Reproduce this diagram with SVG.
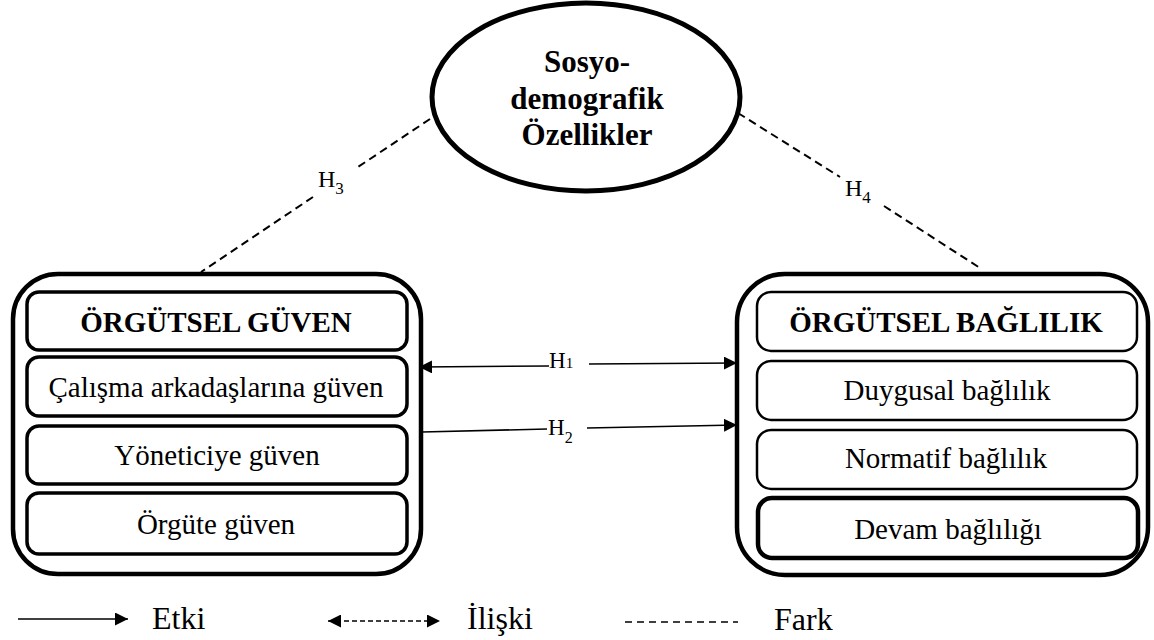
<svg xmlns="http://www.w3.org/2000/svg" width="1154" height="640" viewBox="0 0 1154 640">
<defs>
<style>
text{font-family:'Liberation Serif','DejaVu Serif','Times New Roman',serif;fill:#000}
.b{font-weight:bold}
.box{fill:none;stroke:#000}
.outer{stroke-width:4.5}
.thick{stroke-width:3.5}
.thin{stroke-width:2.5}
.dash{stroke:#000;stroke-width:2;stroke-dasharray:8 5;fill:none}
.solid{stroke:#000;stroke-width:1.6;fill:none}
.ldash{stroke:#000;stroke-width:1.6;stroke-dasharray:5 3;fill:none}
.fdash{stroke:#000;stroke-width:1.6;stroke-dasharray:7 5;fill:none}
</style>
<marker id="ah" viewBox="0 0 13 13" refX="13" refY="6.5" markerWidth="13" markerHeight="13" markerUnits="userSpaceOnUse" orient="auto-start-reverse">
<path d="M0,0 L13,6.5 L0,13 z" fill="#000"/>
</marker>
</defs>
<rect width="1154" height="640" fill="#fff"/>

<g id="socio">
<ellipse cx="586" cy="97" rx="154" ry="94" class="box" stroke-width="5"/>
<text class="b" font-size="31" text-anchor="middle" x="587" y="72">Sosyo-</text>
<text class="b" font-size="31" text-anchor="middle" x="587" y="109">demografik</text>
<text class="b" font-size="31" text-anchor="middle" x="587" y="145">Özellikler</text>
</g>

<g id="guven">
<rect x="13" y="274" width="408" height="300" rx="45" class="box outer"/>
<rect x="27" y="292" width="380" height="58" rx="12" class="box thick"/>
<rect x="27" y="357" width="380" height="59" rx="12" class="box thick"/>
<rect x="27" y="426" width="380" height="58" rx="12" class="box thick"/>
<rect x="27" y="493" width="380" height="61" rx="12" class="box thick"/>
<text class="b" font-size="29" text-anchor="middle" x="216" y="332">ÖRGÜTSEL GÜVEN</text>
<text font-size="29" text-anchor="middle" x="216" y="397">Çalışma arkadaşlarına güven</text>
<text font-size="29" text-anchor="middle" x="217" y="465">Yöneticiye güven</text>
<text font-size="29" text-anchor="middle" x="216" y="534">Örgüte güven</text>
</g>

<g id="baglilik">
<rect x="737" y="274" width="411" height="301" rx="48" class="box outer"/>
<rect x="757" y="292" width="380" height="59" rx="14" class="box thin"/>
<rect x="757" y="361" width="380" height="59" rx="14" class="box thin"/>
<rect x="757" y="430" width="380" height="59" rx="14" class="box thin"/>
<rect x="758" y="498" width="380" height="60" rx="14" class="box" stroke-width="4.5"/>
<text class="b" font-size="29" text-anchor="middle" x="946" y="332">ÖRGÜTSEL BAĞLILIK</text>
<text font-size="29" text-anchor="middle" x="947" y="400">Duygusal bağlılık</text>
<text font-size="29" text-anchor="middle" x="946" y="468">Normatif bağlılık</text>
<text font-size="29" text-anchor="middle" x="948" y="539">Devam bağlılığı</text>
</g>

<g id="connectors">
<line x1="430" y1="119" x2="358" y2="167" class="dash"/>
<line x1="313" y1="197" x2="201" y2="272" class="dash"/>
<text font-size="24" x="318" y="187">H<tspan font-size="17" dy="7">3</tspan></text>
<line x1="738" y1="113" x2="840" y2="177" class="dash"/>
<line x1="884" y1="206" x2="980" y2="268" class="dash"/>
<text font-size="24" x="845" y="196">H<tspan font-size="17" dy="7">4</tspan></text>

<line x1="549" y1="366" x2="419" y2="367" class="solid" marker-end="url(#ah)"/>
<line x1="589" y1="364" x2="737" y2="363" class="solid" marker-end="url(#ah)"/>
<text font-size="23" x="549" y="368">H<tspan font-size="15">1</tspan></text>
<line x1="422" y1="432" x2="547" y2="429" class="solid"/>
<line x1="587" y1="428" x2="737" y2="425" class="solid" marker-end="url(#ah)"/>
<text font-size="23" x="548" y="435">H<tspan font-size="16" dy="8">2</tspan></text>
</g>

<g id="legend">
<line x1="18" y1="619" x2="128" y2="619" class="solid" marker-end="url(#ah)"/>
<text font-size="32" x="152" y="629">Etki</text>
<line x1="328" y1="621" x2="440" y2="621" class="ldash" marker-start="url(#ah)" marker-end="url(#ah)"/>
<text font-size="32" x="467" y="629">İlişki</text>
<line x1="625" y1="622" x2="738" y2="622" class="fdash"/>
<text font-size="32" x="774" y="630">Fark</text>
</g>
</svg>
